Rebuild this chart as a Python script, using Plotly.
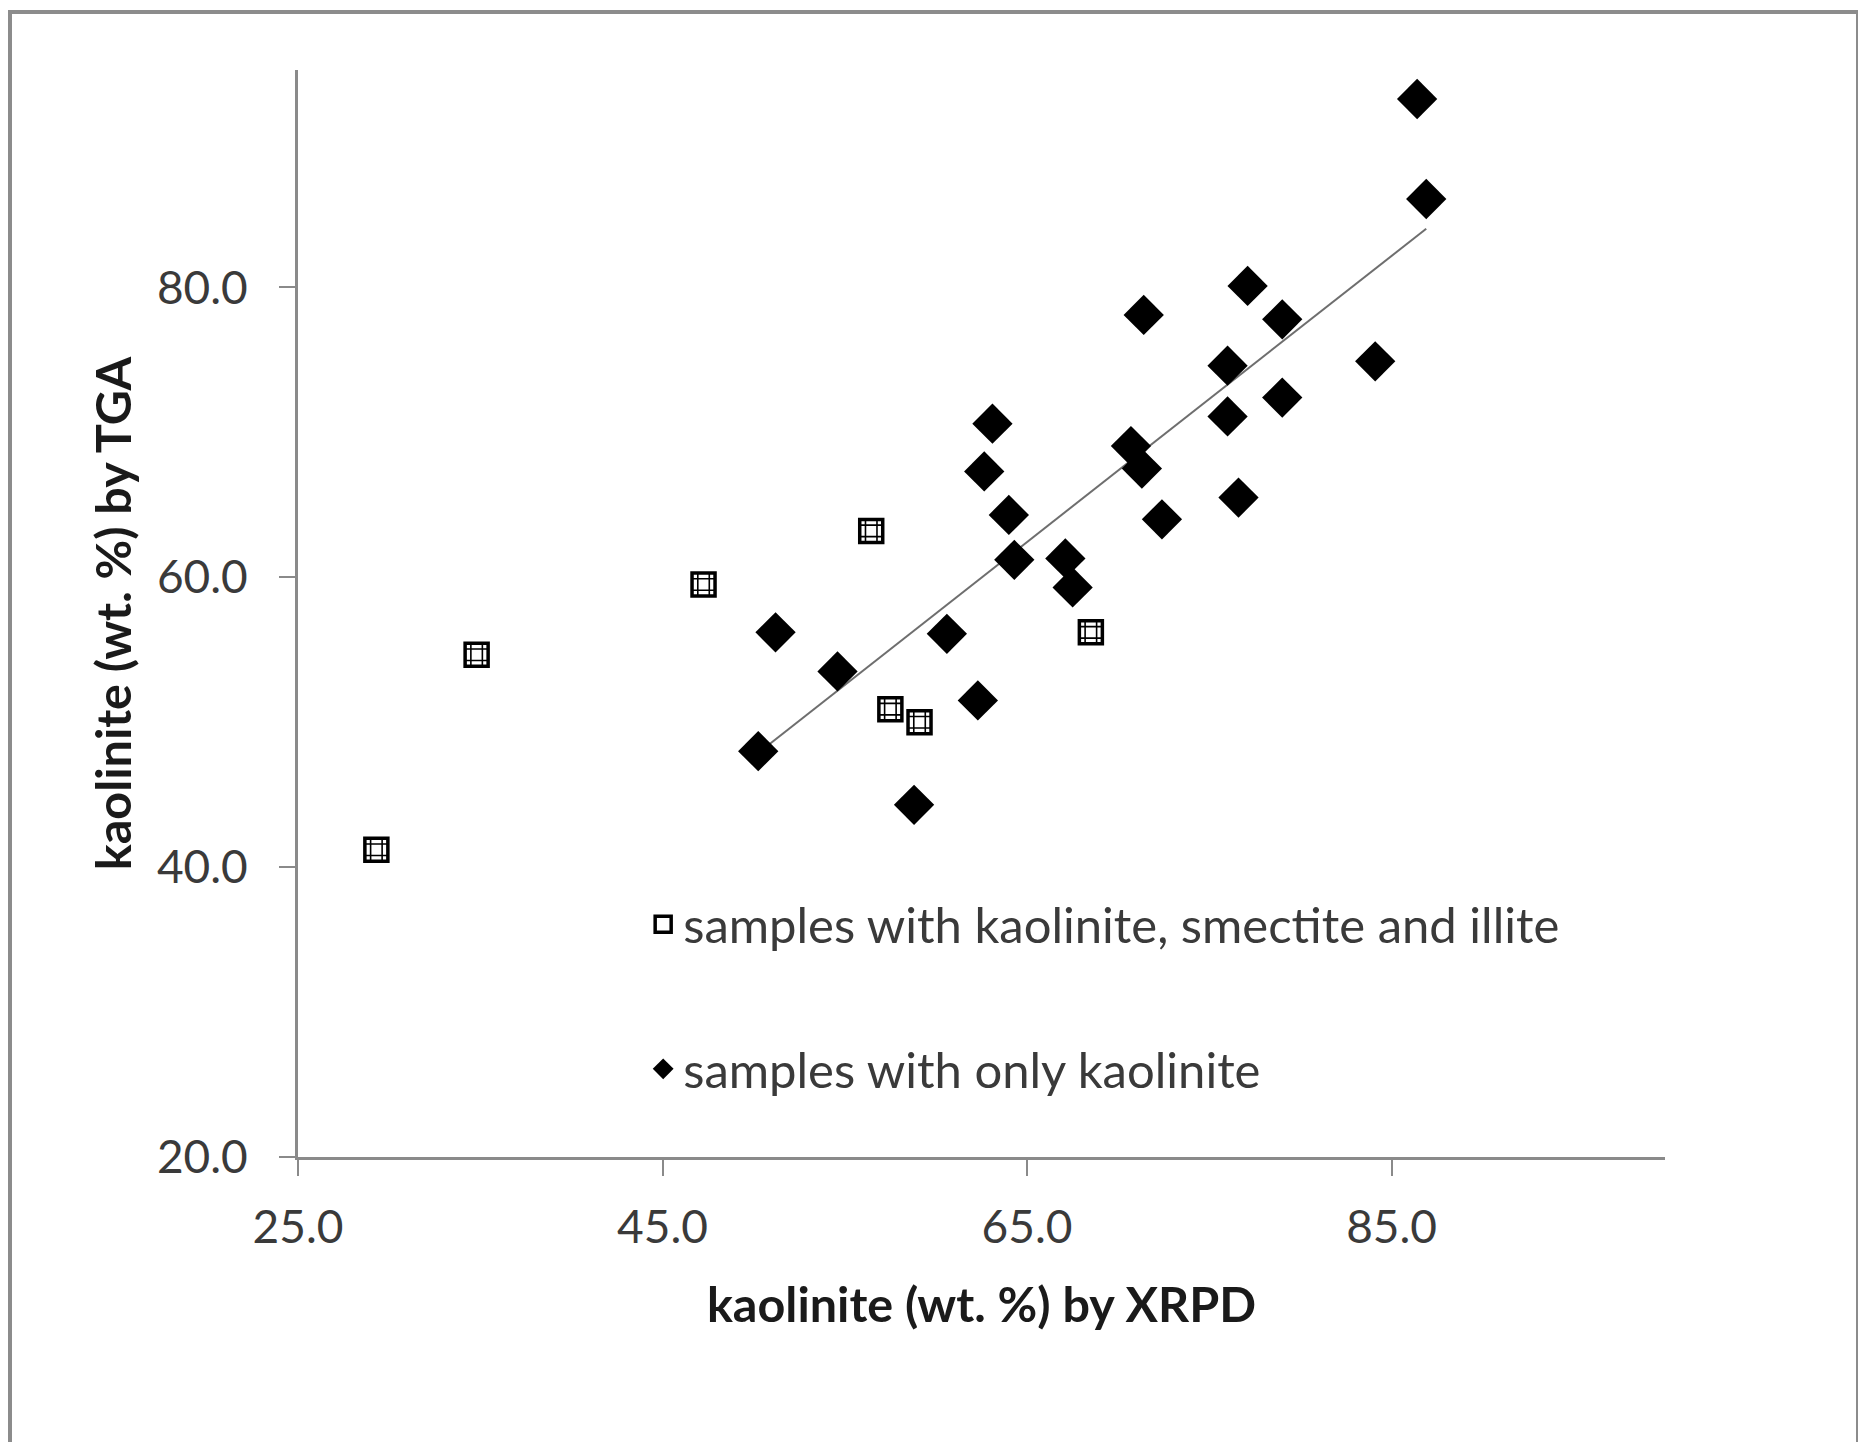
import numpy as np
import plotly.graph_objects as go

# samples with kaolinite, smectite and illite
mixed_x = [29.3, 34.8, 47.25, 56.45, 57.5, 59.1, 68.5]
mixed_y = [41.2, 54.65, 59.5, 63.2, 50.9, 50.0, 56.2]

# samples with only kaolinite
kao_x = [86.4, 86.9, 77.1, 71.4, 79.0, 84.1, 76.0, 79.0, 63.1, 76.0, 70.7, 71.3, 62.65,
         76.6, 64.0, 72.4, 64.3, 67.1, 67.5, 51.2, 60.6, 54.6, 62.3, 50.25, 58.8]
kao_y = [93.0, 86.1, 80.1, 78.1, 77.8, 74.9, 74.6, 72.4, 70.6, 71.1, 69.05, 67.5, 67.3,
         65.5, 64.3, 64.0, 61.2, 61.3, 59.3, 56.2, 56.1, 53.5, 51.5, 48.0, 44.3]

x_ticks = [25, 45, 65, 85]
x_tick_labels = ["25.0", "45.0", "65.0", "85.0"]
y_ticks = [20, 40, 60, 80]
y_tick_labels = ["20.0", "40.0", "60.0", "80.0"]

series_names = ["samples with kaolinite, smectite and illite", "samples with only kaolinite"]

# linear trendline through kaolinite-only samples
slope, intercept = np.polyfit(kao_x, kao_y, 1)
trend_x = [min(kao_x), max(kao_x)]
trend_y = [slope * v + intercept for v in trend_x]

FONT = "Lato, 'Liberation Sans', Arial, sans-serif"
AX = "#8a8a8a"

fig = go.Figure()

fig.add_trace(go.Scatter(
    x=trend_x, y=trend_y, mode="lines",
    line=dict(color="#6e6e6e", width=2),
    showlegend=False, hoverinfo="skip"))

fig.add_trace(go.Scatter(
    x=mixed_x, y=mixed_y, mode="markers", name=series_names[0],
    legendgroup="a",
    marker=dict(symbol="square", size=23, color="white",
                line=dict(color="black", width=3.5))))
fig.add_trace(go.Scatter(
    x=mixed_x, y=mixed_y, mode="markers", showlegend=False, legendgroup="a",
    marker=dict(symbol="hash-open", size=23, color="black",
                line=dict(color="black", width=1.6)),
    hoverinfo="skip"))

fig.add_trace(go.Scatter(
    x=kao_x, y=kao_y, mode="markers", name=series_names[1],
    legendgroup="b",
    marker=dict(symbol="diamond", size=31, color="black",
                line=dict(width=0))))

PL, PT, PW, PH = 298, 70, 1367, 1087  # plot area in page pixels

fig.update_layout(
    width=1866, height=1442,
    margin=dict(l=290, r=209, t=62, b=293),
    paper_bgcolor="white", plot_bgcolor="white",
    font=dict(family=FONT, color="#3a3a3a", size=46),
    legend=dict(x=0.2525, y=0.2495, xanchor="left", yanchor="top",
                bgcolor="rgba(0,0,0,0)", traceorder="grouped",
                tracegroupgap=78, font=dict(size=49, color="#3a3a3a")),
    xaxis=dict(range=[25, 100], tickvals=x_ticks, ticktext=x_tick_labels,
               showgrid=False, zeroline=False, showline=True, linecolor=AX,
               linewidth=3, ticks="outside", ticklen=16, tickwidth=2, tickcolor=AX,
               ticklabelstandoff=12,
               tickfont=dict(size=46, color="#3a3a3a"),
               title=dict(text="<b>kaolinite (wt. %) by XRPD</b>",
                          font=dict(size=48.5, color="#1a1a1a"), standoff=36)),
    yaxis=dict(range=[20, 95], tickvals=y_ticks, ticktext=y_tick_labels,
               showgrid=False, zeroline=False, showline=True, linecolor=AX,
               linewidth=3, ticks="outside", ticklen=16, tickwidth=2, tickcolor=AX,
               ticklabelstandoff=22,
               tickfont=dict(size=46, color="#3a3a3a"),
               title=dict(text="<b>kaolinite (wt. %) by TGA</b>",
                          font=dict(size=48.5, color="#1a1a1a"), standoff=10)),
)

# outer chart frame
fig.add_shape(type="rect", xref="paper", yref="paper",
              x0=(10 - PL) / PW, x1=(1858 - PL) / PW,
              y0=(PT + PH - 1460) / PH, y1=(PT + PH - 12) / PH,
              line=dict(color="#8c8c8c", width=4), layer="below")

fig.write_html("out.html")
